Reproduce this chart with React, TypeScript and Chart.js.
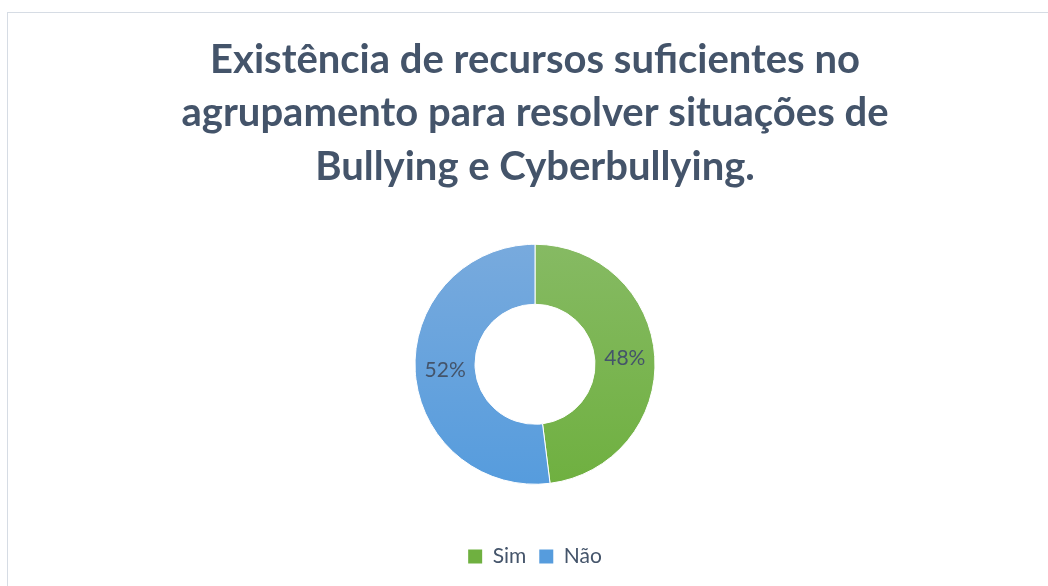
import React, { useEffect, useRef } from "react";
import { Chart, registerables } from "chart.js";

Chart.register(...registerables);

const titleLines = [
  "Existência de recursos suficientes no",
  "agrupamento para resolver situações de",
  "Bullying e Cyberbullying.",
];
const categories = ["Sim", "Não"];
const values = [48, 52];
const topColors = ["#86BA63", "#78AADD"];
const bottomColors = ["#6FB040", "#569CDD"];

const TEXT = "#44546A";
const FONT = "Lato, 'Open Sans', sans-serif";

const dataLabels = {
  id: "dataLabels",
  afterDatasetsDraw(chart: any) {
    const ctx = chart.ctx;
    const meta = chart.getDatasetMeta(0);
    const total = values.reduce((a, b) => a + b, 0);
    ctx.save();
    ctx.font = `21px ${FONT}`;
    ctx.fillStyle = TEXT;
    ctx.textAlign = "center";
    ctx.textBaseline = "middle";
    meta.data.forEach((arc: any, i: number) => {
      const p = arc.tooltipPosition();
      ctx.fillText(Math.round((values[i] / total) * 100) + "%", p.x, p.y);
    });
    ctx.restore();
  },
};

export default function App() {
  const ref = useRef<HTMLCanvasElement | null>(null);
  useEffect(() => {
    if (!ref.current) return;
    const makeColor = (i: number) => (c: any) => {
      const chart = c.chart;
      const area = chart.chartArea;
      if (!area) return bottomColors[i];
      const cy = (area.top + area.bottom) / 2;
      const g = chart.ctx.createLinearGradient(0, cy - 120, 0, cy + 120);
      g.addColorStop(0, topColors[i]);
      g.addColorStop(1, bottomColors[i]);
      return g;
    };
    const defaultGen = Chart.overrides.doughnut.plugins.legend.labels.generateLabels;
    const chart = new Chart(ref.current, {
      type: "doughnut",
      data: {
        labels: categories,
        datasets: [
          {
            data: values,
            backgroundColor: (c: any) => makeColor(c.dataIndex ?? 0)(c),
            borderColor: "#ffffff",
            borderWidth: 1,
          },
        ],
      },
      options: {
        responsive: false,
        animation: false,
        radius: 120,
        cutout: "50%",
        layout: { padding: { left: 22, right: 0, top: 0, bottom: 9 } },
        plugins: {
          title: {
            display: true,
            text: titleLines,
            color: TEXT,
            font: { family: FONT, size: 40, weight: "bold", lineHeight: 53.5 / 40 },
            padding: { top: 33, bottom: 2 },
          },
          legend: {
            position: "bottom",
            labels: {
              color: TEXT,
              font: { family: FONT, size: 21 },
              boxWidth: 14,
              boxHeight: 14,
              padding: 13,
              generateLabels: (chart: any) =>
                defaultGen(chart).map((l: any) => ({ ...l, lineWidth: 0 })),
            },
          },
          tooltip: { enabled: false },
        },
      } as any,
      plugins: [dataLabels],
    });
    return () => chart.destroy();
  }, []);

  return (
    <div
      style={{
        position: "fixed",
        left: 0,
        top: 0,
        width: 1048,
        height: 586,
        overflow: "hidden",
        background: "#ffffff",
      }}
    >
      <div
        style={{
          position: "absolute",
          left: 7,
          top: 12,
          width: 1200,
          height: 800,
          border: "1px solid #D6DCE4",
          boxSizing: "border-box",
        }}
      />
      <canvas
        ref={ref}
        width={1048}
        height={586}
        style={{ position: "absolute", left: 0, top: 0, width: 1048, height: 586 }}
      />
    </div>
  );
}
